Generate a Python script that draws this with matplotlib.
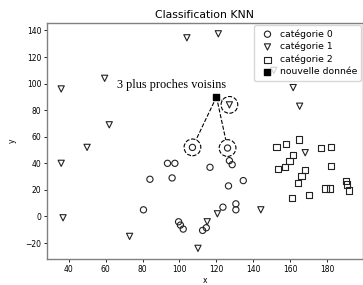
import matplotlib
matplotlib.use("Agg")
import matplotlib.pyplot as plt

# catégorie 0 (cercles)
cat0_x = [107, 126, 93.5, 97.5, 116.5, 127, 128.5, 84, 96, 134.5, 126.5, 80.5, 123.5, 130.5, 130.5, 99.5, 100.5, 102, 112.5, 114.5]
cat0_y = [52, 51.5, 40, 40, 37, 42, 39, 28, 29, 27, 23, 5, 7, 9.5, 5, -4, -6.5, -9.5, -10.5, -8.5]

# catégorie 1 (triangles)
cat1_x = [104, 121, 36, 59.5, 62, 127, 161.5, 165, 151, 50, 36, 37, 73, 110, 115, 120.5, 144, 168]
cat1_y = [134.5, 137.5, 96, 104, 69, 84, 97, 83, 110, 52, 40, -1, -15, -24, -4, 2, 5, 48]

# catégorie 2 (carrés)
cat2_x = [152.5, 157.5, 164.5, 176.5, 182, 161.5, 159.5, 157, 153.5, 168, 166, 164, 182, 179, 181.5, 161, 170, 190, 190.5, 191.5]
cat2_y = [52, 54.5, 58, 51.5, 52, 46, 42, 37, 35.5, 35, 30.5, 25, 38, 21, 21, 14, 16, 26.5, 24, 19.5]

# nouvelle donnée et ses 3 plus proches voisins
new_x = 120
new_y = 90
voisins_x = [cat0_x[0], cat0_x[1], cat1_x[5]]
voisins_y = [cat0_y[0], cat0_y[1], cat1_y[5]]

fs = 5.5
fig = plt.figure(figsize=(3.63, 2.85), dpi=100)
ax = fig.add_axes([0.129, 0.091, 0.871, 0.828])

# lignes pointillées vers les voisins
for vx, vy in zip(voisins_x, voisins_y):
    ax.plot([new_x, vx], [new_y, vy], color="black", linestyle="--", linewidth=0.8, zorder=1)
ax.scatter(voisins_x, voisins_y, s=145, facecolors="white", edgecolors="black",
           linestyles="--", linewidths=0.8, zorder=2)

mk = dict(s=20, facecolors="none", edgecolors="#222222", linewidths=0.8, zorder=3)
ax.scatter(cat0_x, cat0_y, marker="o", label="catégorie 0", **mk)
ax.scatter(cat1_x, cat1_y, marker="v", label="catégorie 1", **mk)
ax.scatter(cat2_x, cat2_y, marker="s", label="catégorie 2", **mk)
ax.scatter([new_x], [new_y], marker="s", s=20, color="black", label="nouvelle donnée", zorder=4)

ax.text(66, 97, "3 plus proches voisins", family="Liberation Serif", fontsize=8.8, va="baseline")

ax.set_title("Classification KNN", fontsize=7.8, pad=4)
ax.set_xlabel("x", fontsize=fs, labelpad=1.5)
ax.set_ylabel("y", fontsize=fs, labelpad=6)
ax.set_xticks(range(40, 181, 20))
ax.set_yticks(range(-20, 141, 20))
ax.tick_params(labelsize=fs, length=2, width=0.6, pad=2)
for sp in ax.spines.values():
    sp.set_color("#808080")
    sp.set_linewidth(1)

ax.legend(loc="upper right", fontsize=6.7, borderpad=0.45, labelspacing=0.35,
          handletextpad=0.3, borderaxespad=0.2)

fig.savefig("out.png", dpi=100)
